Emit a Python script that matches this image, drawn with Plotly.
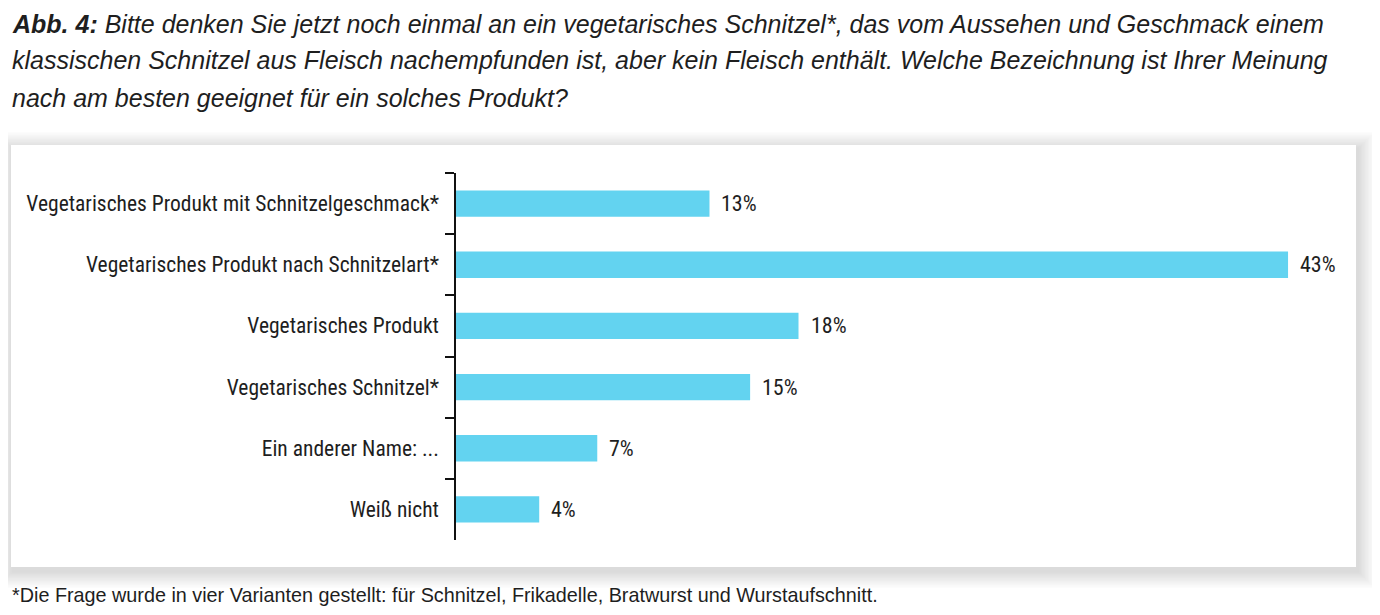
import plotly.graph_objects as go

categories = [
    "Vegetarisches Produkt mit Schnitzelgeschmack*",
    "Vegetarisches Produkt nach Schnitzelart*",
    "Vegetarisches Produkt",
    "Vegetarisches Schnitzel*",
    "Ein anderer Name: ...",
    "Weiß nicht",
]
values = [13.1, 43.0, 17.7, 15.2, 7.3, 4.3]
value_labels = ["13%", "43%", "18%", "15%", "7%", "4%"]

title_lines = [
    "<b>Abb. 4:</b> Bitte denken Sie jetzt noch einmal an ein vegetarisches Schnitzel*, das vom Aussehen und Geschmack einem",
    "klassischen Schnitzel aus Fleisch nachempfunden ist, aber kein Fleisch enthält. Welche Bezeichnung ist Ihrer Meinung",
    "nach am besten geeignet für ein solches Produkt?",
]
footnote = "*Die Frage wurde in vier Varianten gestellt: für Schnitzel, Frikadelle, Bratwurst und Wurstaufschnitt."

# the page body has an 8px margin, so the figure is 8px smaller than the window
OFF = 8
W, H = 1380 - OFF, 615 - OFF
# plot area in window pixels: x 456..1346, y 173..540
ML, MR, MT, MB = 456 - OFF, 1380 - 1346, 173 - OFF, 615 - 540
PW, PH = W - ML - MR, H - MT - MB

def px_x(p):  # window pixel -> paper x
    return (p - OFF - ML) / PW

def px_y(p):  # window pixel -> paper y
    return (H - MB - (p - OFF)) / PH

BAR_COLOR = "#63D3F0"
TEXT_COLOR = "#1e1e1e"
COND = "Roboto Condensed, Liberation Sans, sans-serif"
SANS = "Liberation Sans, Arial, sans-serif"

fig = go.Figure()
fig.add_trace(go.Bar(
    y=categories, x=values, orientation="h",
    marker=dict(color=BAR_COLOR, line=dict(width=0)),
    width=0.43, hoverinfo="skip",
))

shapes = []
# soft shadow around the white box
bx0, bx1, by0, by1 = 11, 1356, 145, 567
for i in range(12, 0, -1):
    e = i * 1.4
    shapes.append(dict(
        type="rect", xref="paper", yref="paper", layer="below",
        x0=px_x(bx0 - e + 2), x1=px_x(bx1 + e + 2),
        y0=px_y(by1 + e + 4), y1=px_y(by0 - e + 4),
        fillcolor="rgba(80,75,70,0.016)", line=dict(width=0),
    ))
shapes.append(dict(
    type="rect", xref="paper", yref="paper", layer="below",
    x0=px_x(bx0), x1=px_x(bx1), y0=px_y(by1), y1=px_y(by0),
    fillcolor="white", line=dict(width=0),
))

annotations = []
for c, v, lab in zip(categories, values, value_labels):
    annotations.append(dict(
        x=v, y=c, xref="x", yref="y", text=lab, showarrow=False,
        xanchor="left", yanchor="middle", xshift=10,
        font=dict(family=COND, size=22, color=TEXT_COLOR),
    ))
title_centers = [24, 60, 98]
for yc, line in zip(title_centers, title_lines):
    annotations.append(dict(
        x=px_x(10), y=px_y(yc), xref="paper", yref="paper",
        text=f"<i>{line}</i>", showarrow=False, xanchor="left", yanchor="middle",
        font=dict(family=SANS, size=25, color=TEXT_COLOR),
    ))
annotations.append(dict(
    x=px_x(10), y=px_y(595), xref="paper", yref="paper",
    text=footnote, showarrow=False, xanchor="left", yanchor="middle",
    font=dict(family=SANS, size=19.8, color=TEXT_COLOR),
))

fig.update_layout(
    width=W, height=H,
    margin=dict(l=ML, r=MR, t=MT, b=MB, pad=0, autoexpand=False),
    paper_bgcolor="white", plot_bgcolor="rgba(0,0,0,0)",
    showlegend=False, bargap=0.57,
    shapes=shapes, annotations=annotations,
    xaxis=dict(range=[0, PW / 19.35], visible=False, fixedrange=True, automargin=False),
    yaxis=dict(
        categoryorder="array", categoryarray=categories, autorange="reversed",
        showline=True, linecolor="#111", linewidth=1.5, automargin=False,
        ticks="outside", tickson="boundaries", ticklen=9, tickwidth=1.5, tickcolor="#111",
        tickfont=dict(family=COND, size=21.5, color=TEXT_COLOR),
        ticklabelstandoff=11, showgrid=False, zeroline=False, fixedrange=True,
    ),
)

fig.write_html("out.html")
